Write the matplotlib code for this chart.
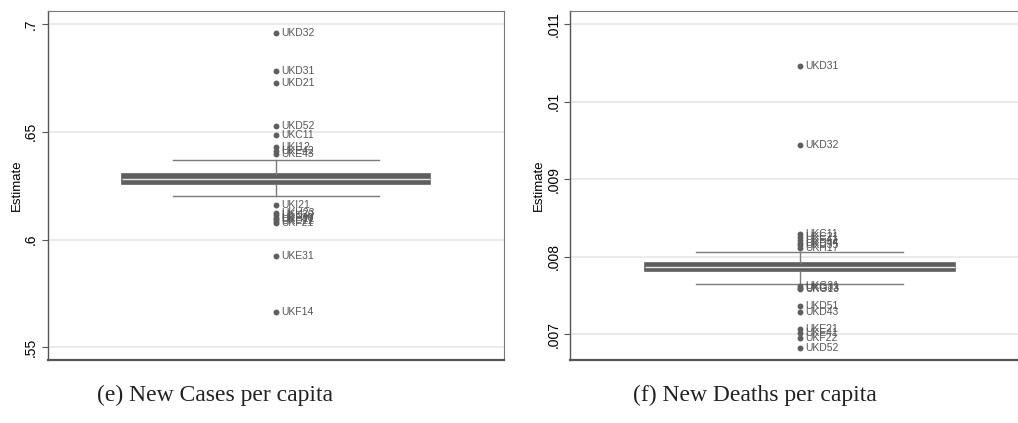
import matplotlib
matplotlib.use("Agg")
import matplotlib.pyplot as plt

# ---- Data: New Cases per capita ----
cases_q1 = 0.6256
cases_med = 0.6281
cases_q3 = 0.6306
cases_whislo = 0.6202
cases_whishi = 0.6370
cases_out_vals = [0.6957, 0.6780, 0.6724, 0.6525, 0.6486, 0.6429, 0.6413, 0.6397,
                  0.6160, 0.6124, 0.6112, 0.6102, 0.6093, 0.6084, 0.6075,
                  0.5925, 0.5663]
cases_out_labels = ["UKD32", "UKD31", "UKD21", "UKD52", "UKC11", "UKI12", "UKE42", "UKE43",
                    "UKI21", "UKH23", "UKK30", "UKF30", "UKH21", "UKE22", "UKF21",
                    "UKE31", "UKF14"]
cases_ticks = [0.55, 0.6, 0.65, 0.7]
cases_ticklabels = [".55", ".6", ".65", ".7"]

# ---- Data: New Deaths per capita ----
deaths_q1 = 0.007812
deaths_med = 0.007872
deaths_q3 = 0.007920
deaths_whislo = 0.007648
deaths_whishi = 0.008055
deaths_out_vals = [0.010463, 0.009438, 0.008290, 0.008260, 0.008220, 0.008180, 0.008150,
                   0.008110, 0.007620, 0.007600, 0.007580, 0.007368, 0.007282,
                   0.007065, 0.007013, 0.006949, 0.006828]
deaths_out_labels = ["UKD31", "UKD32", "UKC11", "UKC21", "UKE41", "UKD44", "UKD35",
                     "UKH17", "UKG31", "UKG33", "UKG13", "UKD51", "UKD43",
                     "UKE21", "UKE41", "UKF22", "UKD52"]
deaths_ticks = [0.007, 0.008, 0.009, 0.010, 0.011]
deaths_ticklabels = [".007", ".008", ".009", ".01", ".011"]

captions = ["(e) New Cases per capita", "(f) New Deaths per capita"]

W, H = 1018, 423
fig = plt.figure(figsize=(W / 100, H / 100), dpi=100)

panels = [
    dict(rect=[47.7 / W, 1 - 360 / H, 456.3 / W, 349 / H],
         stats=dict(q1=cases_q1, med=cases_med, q3=cases_q3, whislo=cases_whislo,
                    whishi=cases_whishi, fliers=[]),
         vals=cases_out_vals, labels=cases_out_labels,
         ticks=cases_ticks, ticklabels=cases_ticklabels,
         ylim=(0.54411, 0.70603), cap_x=215 / W),
    dict(rect=[570.3 / W, 1 - 360 / H, 458.8 / W, 349 / H],
         stats=dict(q1=deaths_q1, med=deaths_med, q3=deaths_q3, whislo=deaths_whislo,
                    whishi=deaths_whishi, fliers=[]),
         vals=deaths_out_vals, labels=deaths_out_labels,
         ticks=deaths_ticks, ticklabels=deaths_ticklabels,
         ylim=(0.006669, 0.011168), cap_x=755 / W),
]

dark = "#5f5f5f"
for i, p in enumerate(panels):
    ax = fig.add_axes(p["rect"])
    ax.bxp([p["stats"]], positions=[0], widths=0.675, capwidths=0.451,
           showfliers=False, patch_artist=True,
           boxprops=dict(facecolor=dark, edgecolor=dark, linewidth=1.2),
           medianprops=dict(color="#e8e8e8", linewidth=1.0),
           whiskerprops=dict(color="#7a7a7a", linewidth=1.0),
           capprops=dict(color="#7a7a7a", linewidth=1.0), zorder=2)

    ax.set_xlim(-0.5, 0.5)
    ax.set_ylim(*p["ylim"])
    ax.set_xticks([])
    ax.set_yticks(p["ticks"])
    ax.set_yticklabels(p["ticklabels"], rotation=90, va="center", fontsize=10,
                       family="Liberation Sans")
    ax.grid(axis="y", color="#e6e6e6", linewidth=1.2, zorder=0)
    ax.set_axisbelow(True)
    ax.tick_params(axis="y", length=4, width=0.8, color="#555555", pad=3)
    for s in ["left", "bottom"]:
        ax.spines[s].set_color("#555555")
    ax.spines["left"].set_linewidth(1.0)
    ax.spines["bottom"].set_linewidth(1.6)
    ax.spines["top"].set_color("#777777")
    ax.spines["top"].set_linewidth(0.8)
    ax.spines["right"].set_color("#777777")
    ax.spines["right"].set_linewidth(0.8)
    ax.set_ylabel("Estimate", fontsize=9.5, family="Liberation Sans", labelpad=1)

    xs = [0.0] * len(p["vals"])
    ax.scatter(xs, p["vals"], s=18, color=dark, zorder=3, linewidths=0)
    for v, lab in zip(p["vals"], p["labels"]):
        ax.annotate(lab, (0, v), xytext=(4, 0), textcoords="offset points",
                    va="center", ha="left", fontsize=7.5, color="#555555",
                    family="Liberation Sans")

    fig.text(p["cap_x"], 1 - 395 / H, captions[i], ha="center", va="center",
             fontsize=17, family="Liberation Serif", color="#222222")

fig.savefig("out.png", dpi=100)
